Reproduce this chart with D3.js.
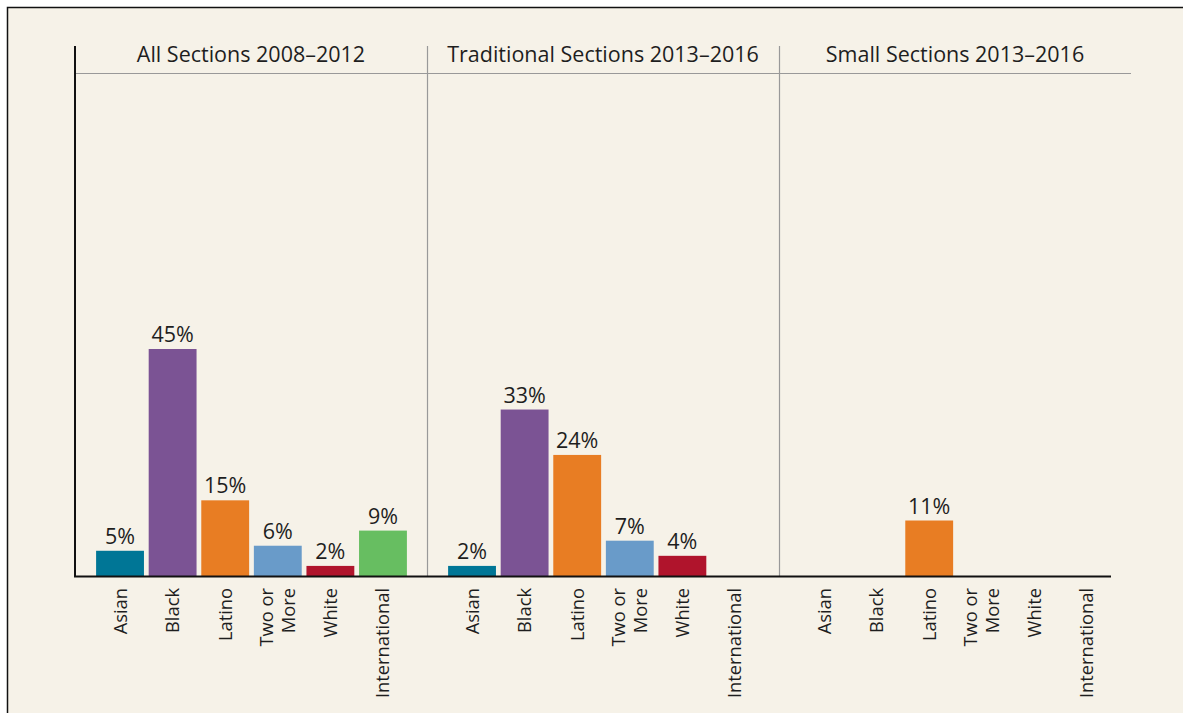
<!DOCTYPE html>
<html>
<head>
<meta charset="utf-8">
<script src="https://cdnjs.cloudflare.com/ajax/libs/d3/7.8.5/d3.min.js"></script>
<style>
	body { margin: 0; background: #ffffff; }
	svg text { font-family: "Open Sans", Lato, sans-serif; fill: #1e1e1e; }
</style>
</head>
<body>
<svg id="viz" width="1183" height="713"></svg>
<script>
// chart data
const panels = ["All Sections 2008\u20132012", "Traditional Sections 2013\u20132016", "Small Sections 2013\u20132016"];
const groups = ["Asian", "Black", "Latino", "Two or More", "White", "International"];
const allSections = [5, 45, 15, 6, 2, 9];
const traditionalSections = [2, 33, 24, 7, 4, 0];
const smallSections = [0, 0, 11, 0, 0, 0];
const seriesValues = [allSections, traditionalSections, smallSections];

const colors = ["#007696", "#7b5394", "#e87d23", "#699bc9", "#b0142c", "#67be61"];

const margin = { top: 46, left: 75, baseline: 576 };
const panelWidth = 352;

let svg = d3.select("svg#viz");

// background and frame
svg.append("rect")
	.attr("x", 7.5).attr("y", 7.5)
	.attr("width", 1200).attr("height", 720)
	.attr("fill", "#f6f2e8")
	.attr("stroke", "#111").attr("stroke-width", 1.5);

// scales
let panelScale = d3.scaleBand()
	.domain(panels)
	.range([margin.left, margin.left + panelWidth * 3]);

let yScale = d3.scaleLinear()
	.domain([0, 45])
	.range([margin.baseline, 349]);

let xScale = d3.scaleBand()
	.domain(groups)
	.range([19, 19 + 315])
	.paddingInner(0.09)
	.paddingOuter(0.04);

// header rule
svg.append("line")
	.attr("x1", margin.left).attr("x2", 1131)
	.attr("y1", 73.5).attr("y2", 73.5)
	.attr("stroke", "#999").attr("stroke-width", 1.2);

// dividers between panels
svg.selectAll("line.divider")
	.data(panels.slice(1))
	.enter().append("line")
	.attr("class", "divider")
	.attr("x1", d => panelScale(d) + 0.5)
	.attr("x2", d => panelScale(d) + 0.5)
	.attr("y1", margin.top).attr("y2", margin.baseline)
	.attr("stroke", "#999").attr("stroke-width", 1.2);

panels.forEach(function(p, pi) {
	let g = svg.append("g")
		.attr("transform", `translate(${panelScale(p)},0)`);

	g.append("text")
		.attr("x", panelWidth / 2)
		.attr("y", 62)
		.attr("text-anchor", "middle")
		.style("font-size", "21.5px")
		.text(p);

	let vals = seriesValues[pi];

	g.selectAll("rect.bar")
		.data(vals)
		.enter().append("rect")
		.attr("class", "bar")
		.attr("x", (d, i) => xScale(groups[i]))
		.attr("width", xScale.bandwidth())
		.attr("y", d => yScale(d))
		.attr("height", d => margin.baseline - yScale(d))
		.attr("fill", (d, i) => colors[i]);

	g.selectAll("text.value")
		.data(vals.map((v, i) => ({ v: v, name: groups[i] })).filter(d => d.v > 0))
		.enter().append("text")
		.attr("class", "value")
		.attr("x", d => xScale(d.name) + xScale.bandwidth() / 2)
		.attr("y", d => yScale(d.v) - 7)
		.attr("text-anchor", "middle")
		.style("font-size", "21.5px")
		.text(d => d.v + "%");

	// category labels, rotated
	groups.forEach(function(name, i) {
		let cx = xScale(name) + xScale.bandwidth() / 2;
		let lines = name == "Two or More" ? ["Two or", "More"] : [name];
		let t = g.append("text")
			.attr("transform", `translate(${cx},588) rotate(-90)`)
			.attr("text-anchor", "end")
			.style("font-size", "18.3px");
		lines.forEach(function(l, li) {
			let off = (li - (lines.length - 1) / 2) * 22 + 6.5;
			t.append("tspan").attr("x", 0).attr("y", off).text(l);
		});
	});
});

// axes
svg.append("line")
	.attr("x1", margin.left).attr("x2", margin.left)
	.attr("y1", margin.top).attr("y2", margin.baseline + 1)
	.attr("stroke", "#111").attr("stroke-width", 2);

svg.append("line")
	.attr("x1", margin.left - 1).attr("x2", 1111)
	.attr("y1", margin.baseline + 0.5).attr("y2", margin.baseline + 0.5)
	.attr("stroke", "#111").attr("stroke-width", 2);
</script>
</body>
</html>
